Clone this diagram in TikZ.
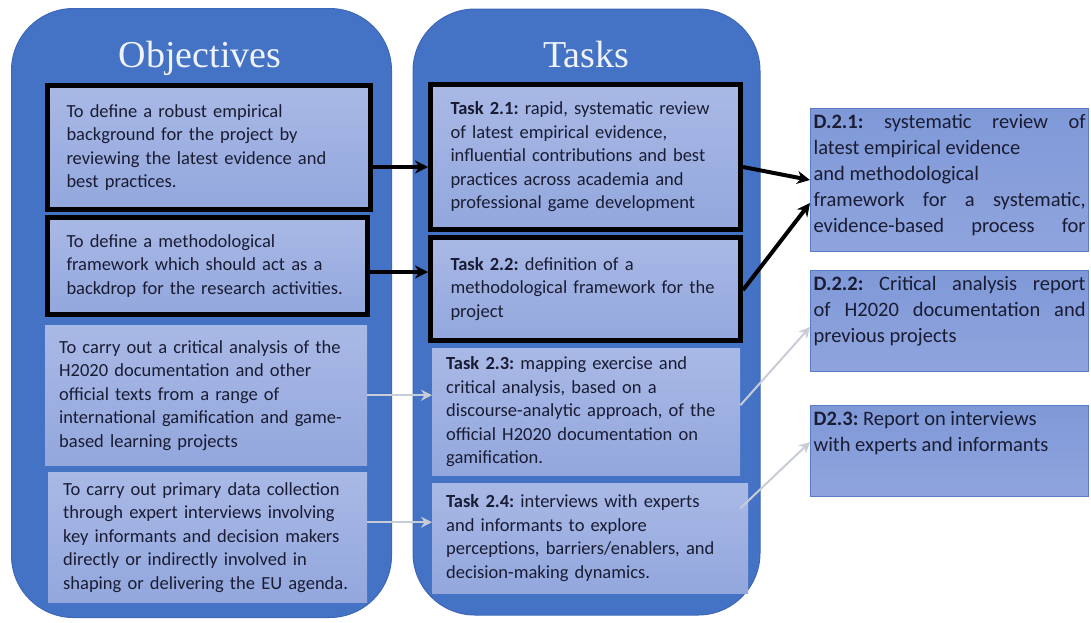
\documentclass[tikz,border=0pt]{standalone}
\usepackage{fontspec}
\setmainfont{Carlito}
\newfontfamily\headfont{Liberation Serif}
\usepackage{tikz}
\usetikzlibrary{arrows.meta, positioning}
\definecolor{panelblue}{HTML}{4472C4}
\definecolor{paneledge}{HTML}{3D67B8}
\definecolor{boxtop}{HTML}{A9B9E6}
\definecolor{boxbot}{HTML}{93A7DD}
\definecolor{delivtop}{HTML}{7F99D8}
\definecolor{delivbot}{HTML}{8FA4DD}
\definecolor{delivedge}{HTML}{5A7BC6}
\definecolor{inktext}{HTML}{1A1C33}
\definecolor{faintarrow}{HTML}{C8CCD6}
\frenchspacing
\hyphenpenalty=10000
\exhyphenpenalty=10000
\DeclareRobustCommand\tightwords{\spaceskip=0.18em plus 0.1em minus 0.05em\relax}

\begin{document}
\begin{tikzpicture}[x=1pt, y=-1pt,
    panel/.style={anchor=north west, fill=panelblue, draw=paneledge, line width=1pt, rounded corners=62pt},
    paneltitle/.style={anchor=base, text=white!92!panelblue, font=\headfont\fontsize{38}{42}\selectfont},
    item/.style={anchor=north west, align=left, top color=boxtop, bottom color=boxbot, text=inktext, inner ysep=0pt,
      font=\fontsize{18.5}{23.5}\selectfont\tightwords},
    keyitem/.style={item, draw=black, line width=5pt},
    deliv/.style={anchor=north west, top color=delivtop, bottom color=delivbot, draw=delivedge, line width=1.2pt, text=inktext, inner xsep=3pt, inner ysep=6pt,
      font=\fontsize{20.5}{26}\selectfont},
    mainflow/.style={line width=4pt, -{Stealth[length=13pt, width=13pt]}},
    sideflow/.style={draw=faintarrow, line width=2pt, -{Stealth[length=11pt, width=11pt]}}
  ]
  \useasboundingbox (0,0) rectangle (1091,622);

  % panels
  \node[panel, minimum width=380pt, minimum height=609pt] (objpanel) at (11,8) {};
  \node[panel, minimum width=347pt, minimum height=606pt] (taskpanel) at (412.5,8.5) {};
  \node[paneltitle] (objtitle) at (200,67) {Objectives};
  \node[paneltitle] (tasktitle) at (586,67) {Tasks};

  % objectives
  \node[keyitem, text width=285pt, inner xsep=19pt, minimum height=124pt] (o1) at (45,83)
    {To define a robust empirical\\ background for the project by\\ reviewing the latest evidence and\\ best practices.};
  \node[keyitem, text width=282pt, inner xsep=19pt, minimum height=97pt] (o2) at (45,215)
    {To define a methodological\\ framework which should act as a\\ backdrop for the research activities.};
  \node[item, text width=294pt, inner xsep=14pt, minimum height=140pt] (o3) at (45,325)
    {To carry out a critical analysis of the\\ H2020 documentation and other\\ official texts from a range of\\ international gamification and game-\\ based learning projects};
  \node[item, text width=289pt, inner xsep=15pt, minimum height=130pt] (o4) at (48,472)
    {To carry out primary data collection\\ through expert interviews involving\\ key informants and decision makers\\ directly or indirectly involved in\\ shaping or delivering the EU agenda.};

  % tasks
  \node[keyitem, text width=270pt, inner xsep=20pt, minimum height=145pt] (t1) at (428,82)
    {\textbf{Task 2.1:} rapid, systematic review\\ of latest empirical evidence,\\ influential contributions and best\\ practices across academia and\\ professional game development};
  \node[keyitem, text width=270pt, inner xsep=20pt, minimum height=103pt] (t2) at (428,235)
    {\textbf{Task 2.2:} definition of a\\ methodological framework for the\\ project};
  \node[item, text width=280pt, inner xsep=14pt, minimum height=127pt] (t3) at (432,348)
    {\textbf{Task 2.3:} mapping exercise and\\ critical analysis, based on a\\ discourse-analytic approach, of the\\ official H2020 documentation on\\ gamification.};
  \node[item, text width=288pt, inner xsep=14pt, minimum height=110pt] (t4) at (432,483)
    {\textbf{Task 2.4:} interviews with experts\\ and informants to explore\\ perceptions, barriers/enablers, and\\ decision-making dynamics.};

  % deliverables
  \node[deliv, minimum height=142.8pt] (d1) at (810,108) {\parbox[c][130.8pt][t]{272pt}{%
    \makebox[\linewidth][s]{\textbf{D.2.1:} systematic review of}\\
    latest empirical evidence\\
    and methodological\\
    \makebox[\linewidth][s]{framework for a systematic,}\\
    \makebox[\linewidth][s]{evidence-based process for}}};
  \node[deliv, minimum height=100.8pt] (d2) at (810,270) {\parbox[c][88.8pt][t]{272pt}{%
    \makebox[\linewidth][s]{\textbf{D.2.2:} Critical analysis report}\\
    \makebox[\linewidth][s]{of H2020 documentation and}\\
    previous projects}};
  \node[deliv, minimum height=90.8pt] (d3) at (810,405) {\parbox[c][78.8pt][t]{272pt}{%
    \textbf{D2.3:} Report on interviews\\
    with experts and informants}};

  % objective -> task
  \coordinate (a1) at ([yshift=-19.5pt]o1.east);
  \coordinate (a2) at ([yshift=-6pt]o2.east);
  \coordinate (a4) at ([yshift=15pt]o4.east);
  \draw[mainflow] (a1) -- (a1 -| t1.west);
  \draw[mainflow] (a2) -- (a2 -| t2.west);
  \draw[sideflow] (o3.east) -- (o3.east -| t3.west);
  \draw[sideflow] (a4) -- (a4 -| t4.west);

  % task -> deliverable
  \coordinate (b1) at ([yshift=-10pt]t1.east);
  \coordinate (b2) at ([yshift=-1pt]t2.east);
  \coordinate (b3) at ([yshift=6.5pt]t3.east);
  \coordinate (b4) at ([xshift=-8pt, yshift=30pt]t4.east);
  \coordinate (e2) at ([yshift=-23pt]d1.west);
  \coordinate (e3) at ([yshift=-6pt]d2.west);
  \coordinate (e4) at ([yshift=9pt]d3.west);
  \draw[mainflow] (b1) -- (d1.west);
  \draw[mainflow] (b2) -- (e2);
  \draw[sideflow] (b3) -- (e3);
  \draw[sideflow] (b4) -- (e4);
\end{tikzpicture}
\end{document}
